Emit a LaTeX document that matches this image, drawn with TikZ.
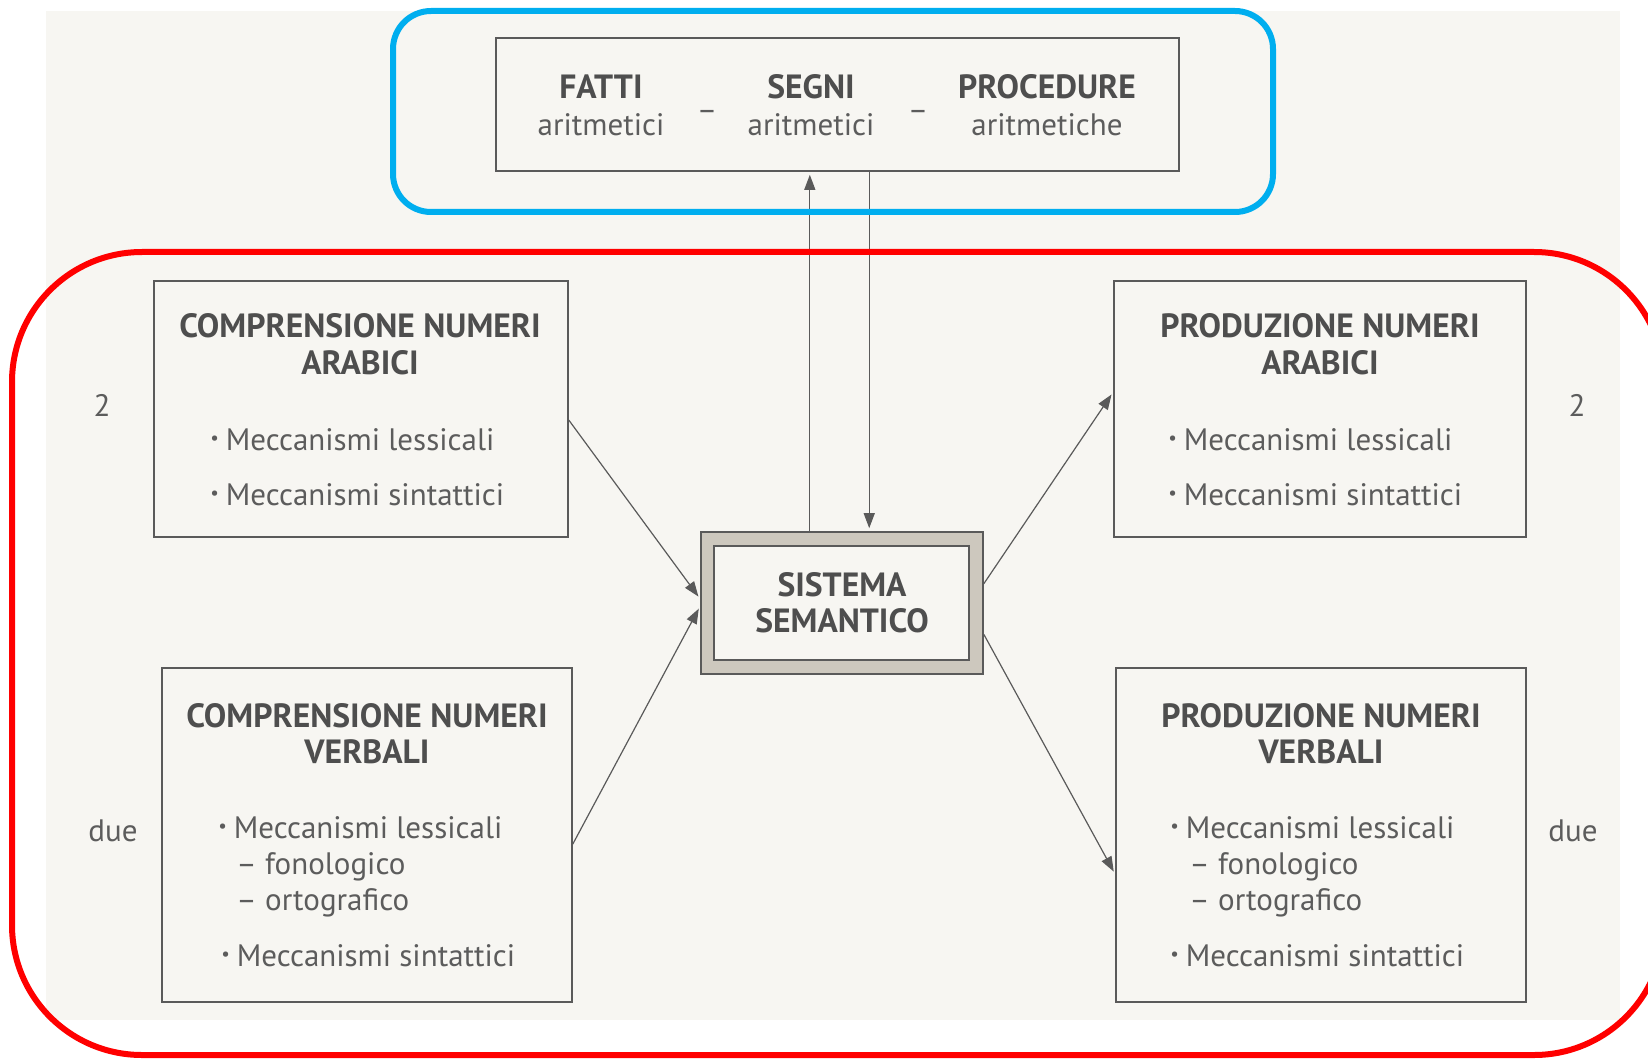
\documentclass[tikz,border=0pt]{standalone}
\usepackage{fontspec}
\setmainfont{PT Sans}
\usetikzlibrary{arrows.meta,calc,fit}

\definecolor{paper}{HTML}{F7F6F2}
\definecolor{ink}{HTML}{5A5A5A}
\definecolor{headtxt}{HTML}{4E4E4E}
\definecolor{bodytxt}{HTML}{5C5C5C}
\definecolor{band}{HTML}{CDC8BE}
\definecolor{frameblue}{HTML}{00AEEF}
\definecolor{framered}{HTML}{FF0000}

\newcommand{\bul}{\raisebox{0.18em}{\fontsize{9.5}{9.5}\selectfont •}\hspace{0.22em}}

\tikzset{
  box/.style={draw=ink, line width=0.8pt, inner sep=0pt, fit={#1}},
  head/.style={font=\fontsize{16.8}{18}\selectfont\bfseries, text=headtxt, inner sep=0pt, anchor=base},
  item/.style={font=\fontsize{15.5}{18}\selectfont, text=bodytxt, inner sep=0pt, anchor=base west},
  plain/.style={font=\fontsize{15.5}{18}\selectfont, text=bodytxt, inner sep=0pt, anchor=base},
  arr/.style={draw=ink, line width=0.6pt, -{Triangle[length=7.5pt,width=5.5pt]}, shorten >=1.5pt},
}

\begin{document}
\begin{tikzpicture}[x=0.5pt,y=-0.5pt]
\useasboundingbox (0,0) rectangle (1648,1059);

% page
\fill[paper] (46,11) rectangle (1620,1020);

% top box: arithmetic facts, signs, procedures
\node[box={(496,38) (1179,171)}] (top) {};
\node[head] (fatti) at (601,99) {FATTI};
\node[plain] (fattiA) at (601,136) {aritmetici};
\node[plain] (d1) at (707,121) {–};
\node[head] (segni) at (811,99) {SEGNI};
\node[plain] (segniA) at (811,136) {aritmetici};
\node[plain] (d2) at (918,121) {–};
\node[head] (proc) at (1047,99) {PROCEDURE};
\node[plain] (procA) at (1047,136) {aritmetiche};

% semantic system with shaded double frame
\node[box={(701,532) (983,674)}, fill=band] (sisO) {};
\node[box={(714,546) (969,660)}, fill=paper] (sis) {};
\node[head] (sis1) at (842,596) {SISTEMA};
\node[head] (sis2) at (842,632) {SEMANTICO};

% comprehension of arabic numbers
\node[box={(154,281) (568,537)}] (cna) {};
\node[head] (cnaT1) at (360,337) {COMPRENSIONE NUMERI};
\node[head] (cnaT2) at (360,374) {ARABICI};
\node[item] (cnaL) at (210,450) {\bul Meccanismi lessicali};
\node[item] (cnaS) at (210,505) {\bul Meccanismi sintattici};

% production of arabic numbers
\node[box={(1114,281) (1526,537)}] (pna) {};
\node[head] (pnaT1) at (1320,337) {PRODUZIONE NUMERI};
\node[head] (pnaT2) at (1320,374) {ARABICI};
\node[item] (pnaL) at (1168,450) {\bul Meccanismi lessicali};
\node[item] (pnaS) at (1168,505) {\bul Meccanismi sintattici};

% comprehension of verbal numbers
\node[box={(162,668) (572,1002)}] (cnv) {};
\node[head] (cnvT1) at (367,727) {COMPRENSIONE NUMERI};
\node[head] (cnvT2) at (367,763) {VERBALI};
\node[item] (cnvL) at (218,838) {\bul Meccanismi lessicali};
\node[item] (cnvF) at (236,874) {– fonologico};
\node[item] (cnvO) at (236,910) {– ortografico};
\node[item] (cnvS) at (221,966) {\bul Meccanismi sintattici};

% production of verbal numbers
\node[box={(1116,668) (1526,1002)}] (pnv) {};
\node[head] (pnvT1) at (1321,727) {PRODUZIONE NUMERI};
\node[head] (pnvT2) at (1321,763) {VERBALI};
\node[item] (pnvL) at (1170,838) {\bul Meccanismi lessicali};
\node[item] (pnvF) at (1189,874) {– fonologico};
\node[item] (pnvO) at (1189,910) {– ortografico};
\node[item] (pnvS) at (1170,966) {\bul Meccanismi sintattici};

% side labels
\node[plain] (n2l) at (102,416) {2};
\node[plain] (n2r) at (1577,416) {2};
\node[plain] (duel) at (113,841) {due};
\node[plain] (duer) at (1573,841) {due};

% connectors
\coordinate (upS) at ($(sisO.north west)!0.3865!(sisO.north east)$);
\coordinate (dnE) at ($(sisO.north west)!0.596!(sisO.north east)$);
\draw[arr] (upS) -- (upS |- top.south);
\draw[arr] (dnE |- top.south) -- (dnE);

\draw[arr] ($(cna.north east)!0.543!(cna.south east)$) -- ($(sisO.north west)!0.472!(sisO.south west)$);
\draw[arr] ($(cnv.north east)!0.527!(cnv.south east)$) -- ($(sisO.north west)!0.521!(sisO.south west)$);
\draw[arr] ($(sisO.north east)!0.366!(sisO.south east)$) -- ($(pna.north west)!0.434!(pna.south west)$);
\draw[arr] ($(sisO.north east)!0.718!(sisO.south east)$) -- ($(pnv.north west)!0.617!(pnv.south west)$);

% highlight frames
\begin{scope}
  \clip (0,0) rectangle (1648,1059);
  \draw[framered, line width=3pt, rounded corners=65pt] (12,252) rectangle (1664,1055);
\end{scope}
\draw[frameblue, line width=3pt, rounded corners=19pt] (393,11) rectangle (1273,212);
\end{tikzpicture}
\end{document}
